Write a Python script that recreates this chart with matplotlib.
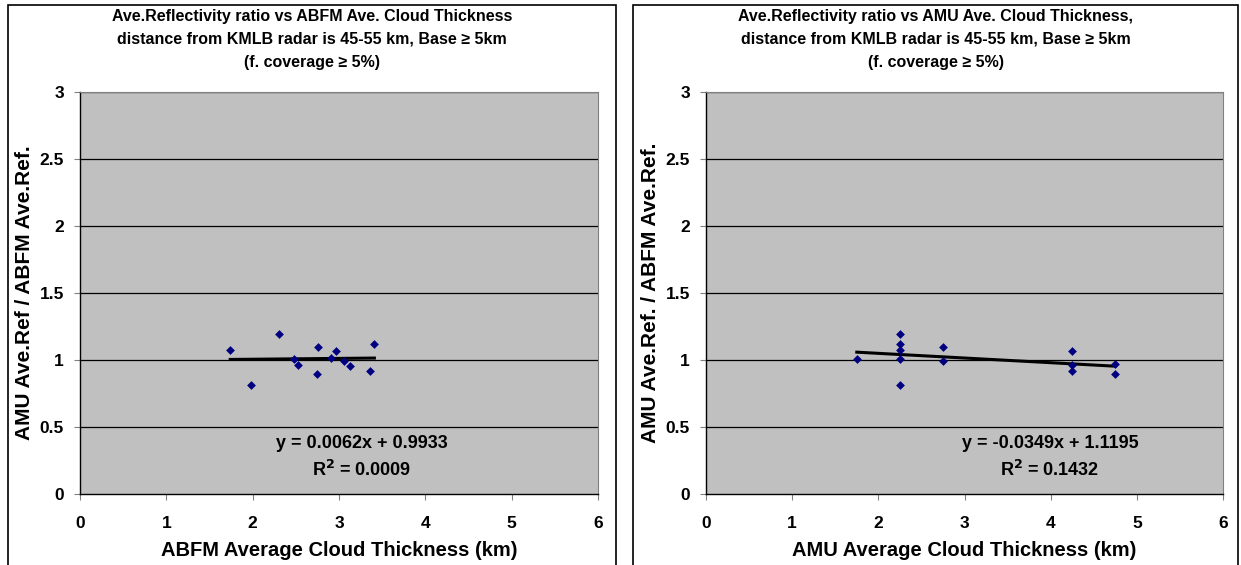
import matplotlib
matplotlib.use("Agg")
import matplotlib.pyplot as plt
from matplotlib.patches import Rectangle
import numpy as np

plt.rcParams['font.family'] = ['Liberation Sans', 'DejaVu Sans']
plt.rcParams['font.weight'] = 'bold'

# ABFM-based panel
abfm_thick = [1.74, 2.30, 1.98, 2.76, 2.48, 2.52, 2.74, 2.96, 2.91, 3.06, 3.13, 3.36, 3.41]
abfm_ratio = [1.075, 1.196, 0.81, 1.10, 1.007, 0.965, 0.893, 1.067, 1.017, 0.995, 0.957, 0.92, 1.117]
abfm_slope, abfm_icpt, abfm_r2 = 0.0062, 0.9933, 0.0009

# AMU-based panel
amu_thick = [1.75, 2.25, 2.25, 2.25, 2.25, 2.25, 2.75, 2.75, 4.25, 4.25, 4.25, 4.75, 4.75]
amu_ratio = [1.01, 1.194, 1.12, 1.075, 1.01, 0.81, 1.10, 0.995, 1.07, 0.965, 0.916, 0.97, 0.895]
amu_slope, amu_icpt, amu_r2 = -0.0349, 1.1195, 0.1432

x_ticks = [0, 1, 2, 3, 4, 5, 6]
y_ticks = [0, 0.5, 1, 1.5, 2, 2.5, 3]
y_ticklabels = ['0', '0.5', '1', '1.5', '2', '2.5', '3']

W, H = 1241, 565
fig = plt.figure(figsize=(W / 100, H / 100), dpi=100)
fig.patch.set_facecolor('white')


def px(x0, y0, x1, y1):
    return [x0 / W, 1 - y1 / H, (x1 - x0) / W, (y1 - y0) / H]


def panel(frame, plot_box, title, xlabel, ylabel, xs, ys, slope, icpt, r2, eq_x):
    fx0, fx1 = frame
    fig.add_artist(Rectangle((fx0 / W, -0.05), (fx1 - fx0) / W, 1.05 - 5 / H,
                             transform=fig.transFigure, fill=False,
                             edgecolor='black', linewidth=1.2))
    x0, y0, x1, y1 = plot_box
    ax = fig.add_axes(px(*plot_box))
    ax.set_facecolor('#C0C0C0')
    ax.set_xlim(0, 6)
    ax.set_ylim(0, 3)
    ax.set_xticks(x_ticks)
    ax.set_xticklabels([str(t) for t in x_ticks], fontsize=12.5, fontweight='bold')
    ax.set_yticks(y_ticks)
    ax.set_yticklabels(y_ticklabels, fontsize=12.5, fontweight='bold')
    ax.tick_params(axis='both', direction='out', length=4.5, width=0.8, colors='#808080',
                   labelcolor='black')
    ax.tick_params(axis='x', pad=11)
    ax.tick_params(axis='y', pad=7)
    for yv in y_ticks[1:]:
        ax.axhline(yv, color='black', linewidth=0.9, zorder=1)
    for s in ['top', 'right']:
        ax.spines[s].set_color('#808080')
        ax.spines[s].set_linewidth(0.8)
    for s in ['left', 'bottom']:
        ax.spines[s].set_color('black')
        ax.spines[s].set_linewidth(1.0)
    ax.scatter(xs, ys, marker='D', s=20, color='#000080', zorder=3, linewidths=0)
    xl = np.array([min(xs), max(xs)])
    ax.plot(xl, slope * xl + icpt, color='black', linewidth=2.2, zorder=2)
    sign = '+' if icpt >= 0 else '-'
    fig.text(eq_x / W, 1 - 443 / H, f'y = {slope:.4f}x {sign} {abs(icpt):.4f}',
             ha='center', va='center', fontsize=13, fontweight='bold')
    fig.text(eq_x / W, 1 - 470 / H, f'R$^{{\\mathbf{{2}}}}$ = {r2:.4f}',
             ha='center', va='center', fontsize=13, fontweight='bold')
    fig.text((x0 + x1) / 2 / W, 1 - 550 / H, xlabel, ha='center', va='center',
             fontsize=14.5, fontweight='bold')
    fig.text((x0 - 55) / W, 1 - (y0 + y1) / 2 / H, ylabel, ha='center', va='center',
             rotation=90, fontsize=15, fontweight='bold')
    cx = (fx0 + fx1) / 2 / W
    for i, line in enumerate(title):
        fig.text(cx, 1 - (17 + 22.5 * i) / H, line, ha='center', va='center',
                 fontsize=11.5, fontweight='bold')
    return ax


panel((8, 616), (80, 92, 598, 494),
      ['Ave.Reflectivity ratio vs ABFM Ave. Cloud Thickness',
       'distance from KMLB radar is 45-55 km, Base \u2265 5km',
       '(f. coverage \u2265 5%)'],
      'ABFM Average Cloud Thickness (km)', 'AMU Ave.Ref / ABFM Ave.Ref.',
      abfm_thick, abfm_ratio, abfm_slope, abfm_icpt, abfm_r2, 362)

panel((633, 1238), (706, 92, 1223, 494),
      ['Ave.Reflectivity ratio vs AMU Ave. Cloud Thickness,',
       'distance from KMLB radar is 45-55 km, Base \u2265 5km',
       '(f. coverage \u2265 5%)'],
      'AMU Average Cloud Thickness (km)', 'AMU Ave.Ref. / ABFM Ave.Ref.',
      amu_thick, amu_ratio, amu_slope, amu_icpt, amu_r2, 1050)

fig.savefig('out.png', dpi=100, facecolor='white')
